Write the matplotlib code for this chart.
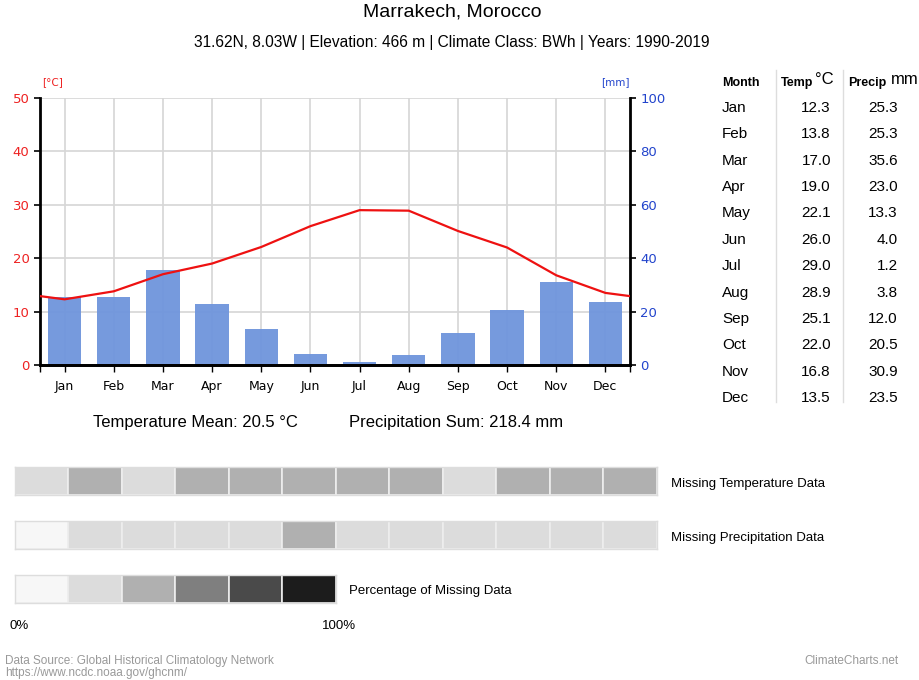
import matplotlib
matplotlib.use("Agg")
import matplotlib.pyplot as plt
import numpy as np

months = ["Jan", "Feb", "Mar", "Apr", "May", "Jun", "Jul", "Aug", "Sep", "Oct", "Nov", "Dec"]
temp = [12.3, 13.8, 17.0, 19.0, 22.1, 26.0, 29.0, 28.9, 25.1, 22.0, 16.8, 13.5]
precip = [25.3, 25.3, 35.6, 23.0, 13.3, 4.0, 1.2, 3.8, 12.0, 20.5, 30.9, 23.5]
temp_ticks = [0, 10, 20, 30, 40, 50]
precip_ticks = [0, 20, 40, 60, 80, 100]
# missing data levels (index into palette)
missing_temp = [1, 2, 1, 2, 2, 2, 2, 2, 1, 2, 2, 2]
missing_precip = [0, 1, 1, 1, 1, 2, 1, 1, 1, 1, 1, 1]
palette = ["#f7f7f7", "#dcdcdc", "#b0b0b0", "#7f7f7f", "#4a4a4a", "#1c1c1c"]

W, H = 920, 680
fig = plt.figure(figsize=(W / 100, H / 100), dpi=100)
AR = "Liberation Sans"
DV = "DejaVu Sans"

def fx(px):
    return px / W

def fy(py):
    return 1 - py / H

# ---- main chart ----
L, R, T, B = 40, 630, 98, 365
ax = fig.add_axes([fx(L), fy(B), fx(R - L), (B - T) / H])
x = np.arange(12)
ax2 = ax.twinx()
ax.set_zorder(ax2.get_zorder() + 1)
ax.patch.set_visible(False)

ax2.bar(x, precip, width=0.68, color="#6f95dc", alpha=0.95, zorder=2)
ax2.set_ylim(0, 100)
ax2.set_yticks(precip_ticks)
ax2.tick_params(axis="y", labelsize=9.5, length=4, width=1.2, color="black", labelcolor="#2244cc")

edge = (temp[0] + temp[-1]) / 2
lx = [-0.5] + list(x) + [11.5]
ly = [edge] + temp + [edge]
ax.plot(lx, ly, color="#ee1111", lw=1.6, zorder=5)
ax.set_xlim(-0.5, 11.5)
ax2.set_xlim(-0.5, 11.5)
ax.set_ylim(0, 50)
ax.set_yticks(temp_ticks)
ax.tick_params(axis="y", labelsize=9.5, length=4, width=1.2, color="black", labelcolor="#ee2222")
ax.set_xticks(list(x))
ax.set_xticklabels(months, fontsize=9, family=DV)
ax.set_xticks([-0.5, 11.5], minor=True)
ax.tick_params(axis="x", which="both", length=5, width=1, color="black", pad=6)

# grid drawn on ax2 (behind bars)
for v in precip_ticks:
    ax2.axhline(v, color="#d6d6d6", lw=1.2, zorder=0)
for xi in x:
    ax2.axvline(xi, color="#d6d6d6", lw=1.2, zorder=0)

for a in (ax, ax2):
    a.spines["top"].set_visible(False)
    a.spines["left"].set_linewidth(2)
    a.spines["right"].set_linewidth(2)
    a.spines["bottom"].set_linewidth(2)
ax2.spines["left"].set_visible(False)
ax.spines["right"].set_visible(False)
for t in ax.get_yticklabels():
    t.set_family(DV)
for t in ax2.get_yticklabels():
    t.set_family(DV)

fig.text(fx(42), fy(82), "[°C]", color="#ee2222", fontsize=7.5, family=DV, va="center")
fig.text(fx(630), fy(82), "[mm]", color="#2244cc", fontsize=7.5, family=DV, va="center", ha="right")

# ---- titles ----
fig.text(fx(452), fy(12), "Marrakech, Morocco", ha="center", va="center", fontsize=14, family=AR)
fig.text(fx(452), fy(43), "31.62N, 8.03W | Elevation: 466 m | Climate Class: BWh | Years: 1990-2019",
         ha="center", va="center", fontsize=11.2, family=AR)

mean_t = np.mean(temp)
sum_p = np.sum(precip)
fig.text(fx(195), fy(423), f"Temperature Mean: {mean_t:.1f} °C", ha="center", va="center", fontsize=12, family=AR)
fig.text(fx(456), fy(423), f"Precipitation Sum: {sum_p:.1f} mm", ha="center", va="center", fontsize=12, family=AR)

# ---- table ----
fig.text(fx(722), fy(83), "Month", fontsize=9, weight="bold", family=AR, va="center")
fig.text(fx(781), fy(83), "Temp", fontsize=9, weight="bold", family=AR, va="center")
fig.text(fx(815), fy(80), "°C", fontsize=12, family=AR, va="center")
fig.text(fx(848), fy(83), "Precip", fontsize=9, weight="bold", family=AR, va="center")
fig.text(fx(891), fy(80), "mm", fontsize=12, family=AR, va="center")
row0, dy = 108, 26.36
for i, m in enumerate(months):
    yy = fy(row0 + i * dy)
    fig.text(fx(722), yy, m, fontsize=11, family=AR, va="center")
    fig.text(fx(831), yy, f"{temp[i]:.1f}", fontsize=11, family=AR, va="center", ha="right")
    fig.text(fx(898), yy, f"{precip[i]:.1f}", fontsize=11, family=AR, va="center", ha="right")
for lxp in (776, 843):
    fig.add_artist(plt.Line2D([fx(lxp), fx(lxp)], [fy(70), fy(402)], color="#dddddd", lw=1))

# ---- missing data strips ----
def strip(y0, y1, x0, x1, levels):
    a = fig.add_axes([fx(x0), fy(y1), fx(x1 - x0), (y1 - y0) / H])
    n = len(levels)
    a.bar(np.arange(n), [1] * n, width=1, align="edge",
          color=[palette[k] for k in levels], edgecolor="#eeeeee", lw=1.2)
    a.set_xlim(0, n)
    a.set_ylim(0, 1)
    a.set_xticks([])
    a.set_yticks([])
    for s in a.spines.values():
        s.set_color("#dddddd")
        s.set_linewidth(1)
    return a

strip(467, 495, 15, 657, missing_temp)
strip(521, 549, 15, 657, missing_precip)
strip(575, 603, 15, 336, list(range(6)))
fig.text(fx(671), fy(484), "Missing Temperature Data", fontsize=9.5, family=AR, va="center")
fig.text(fx(671), fy(538), "Missing Precipitation Data", fontsize=9.5, family=AR, va="center")
fig.text(fx(349), fy(591), "Percentage of Missing Data", fontsize=9.5, family=AR, va="center")
fig.text(fx(9), fy(626), "0%", fontsize=9.5, family=AR, va="center")
fig.text(fx(322), fy(626), "100%", fontsize=9.5, family=AR, va="center")

fig.text(fx(5), fy(661), "Data Source: Global Historical Climatology Network", fontsize=8.5, family=AR,
         va="center", color="#999999")
fig.text(fx(5), fy(673), "https://www.ncdc.noaa.gov/ghcnm/", fontsize=8.5, family=AR, va="center", color="#999999")
fig.text(fx(899), fy(661), "ClimateCharts.net", fontsize=8.5, family=AR, va="center", ha="right", color="#999999")

fig.savefig("out.png", dpi=100, facecolor="white")
